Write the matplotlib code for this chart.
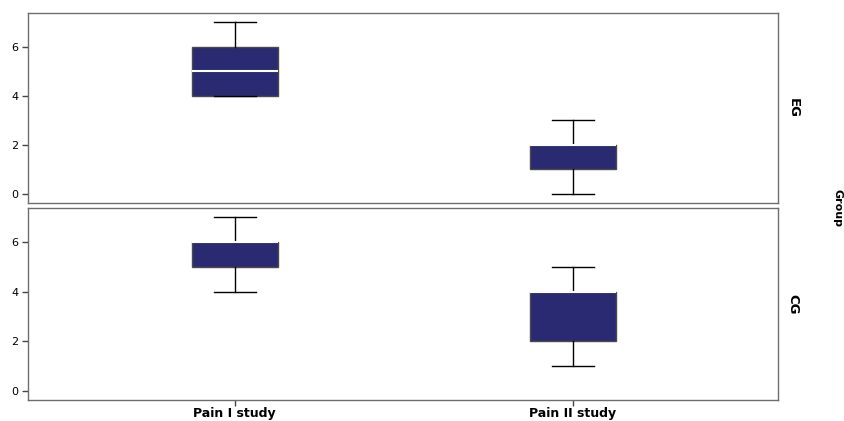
import matplotlib
matplotlib.use("Agg")
import matplotlib.pyplot as plt

plt.rcParams['font.family'] = ['DejaVu Sans']

studies = ["Pain I study", "Pain II study"]
groups = ["EG", "CG"]

# five-number summaries: low whisker, q1, median, q3, high whisker
whislo = {"EG": [4, 0], "CG": [4, 1]}
q1 = {"EG": [4, 1], "CG": [5, 2]}
med = {"EG": [5, 2], "CG": [6, 4]}
q3 = {"EG": [6, 2], "CG": [6, 4]}
whishi = {"EG": [7, 3], "CG": [7, 5]}

yticks = [0, 2, 4, 6]

box_col = "#2a2a72"
spine_col = "#6e6e6e"

fig = plt.figure(figsize=(8.44, 4.21), dpi=100)
positions = [(0.033, 0.518, 0.889, 0.451), (0.033, 0.050, 0.889, 0.456)]

for gi, g in enumerate(groups):
    ax = fig.add_axes(positions[gi])
    stats = []
    for si in range(len(studies)):
        stats.append({"whislo": whislo[g][si], "q1": q1[g][si], "med": med[g][si],
                      "q3": q3[g][si], "whishi": whishi[g][si], "fliers": []})
    ax.bxp(stats, positions=[0, 1], widths=0.254, patch_artist=True,
           showfliers=False, capwidths=0.125,
           boxprops=dict(facecolor=box_col, edgecolor="#4a4a4a", linewidth=1),
           medianprops=dict(color="white", linewidth=1.5),
           whiskerprops=dict(color="black", linewidth=1),
           capprops=dict(color="black", linewidth=1))
    ax.set_xlim(-0.612, 1.607)
    ax.set_ylim(-0.37, 7.37)
    ax.set_yticks(yticks)
    ax.set_yticklabels([str(v) for v in yticks], fontsize=8)
    ax.tick_params(axis="y", length=4, width=1, color="#444444", pad=3)
    for sp in ax.spines.values():
        sp.set_color(spine_col)
        sp.set_linewidth(1)
    if gi == 0:
        ax.set_xticks([])
    else:
        ax.set_xticks([0, 1])
        ax.set_xticklabels(studies, fontsize=9, fontweight="bold")
        ax.tick_params(axis="x", length=4, width=1, color="#444444", pad=1)
    ax.text(1.02, 0.5, g, transform=ax.transAxes, rotation=-90,
            ha="center", va="center", fontsize=9.5, fontweight="bold")

fig.text(0.992, 0.505, "Group", rotation=-90, ha="center", va="center",
         fontsize=8, fontweight="bold")

fig.savefig("out.png", dpi=100)
